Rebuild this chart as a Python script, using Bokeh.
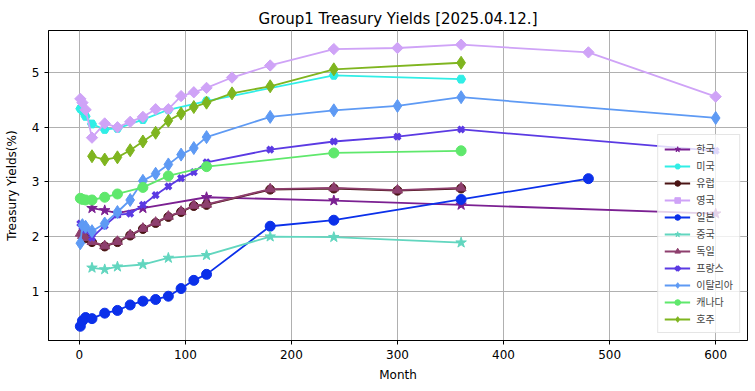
import math
from bokeh.plotting import figure
from bokeh.models import Range1d, FixedTicker, Legend
from bokeh.embed import file_html
from bokeh.resources import INLINE

# ---- data (months, yields %) ----
kr_m = [12, 24, 36, 60, 120, 240, 360, 600]
kr_v = [2.52, 2.48, 2.43, 2.52, 2.72, 2.66, 2.58, 2.42]

us_m = [1, 2, 3, 4, 6, 12, 24, 36, 60, 84, 120, 240, 360]
us_v = [4.34, 4.33, 4.32, 4.28, 4.20, 4.06, 3.96, 3.98, 4.14, 4.32, 4.48, 4.95, 4.88]

eu_m = [3, 6, 12, 24, 36, 48, 60, 72, 84, 96, 108, 120, 180, 240, 300, 360]
eu_v = [2.04, 1.97, 1.90, 1.82, 1.90, 2.02, 2.14, 2.25, 2.36, 2.45, 2.56, 2.58, 2.86, 2.88, 2.84, 2.88]

uk_m = [1, 3, 6, 12, 24, 36, 48, 60, 72, 84, 96, 108, 120, 144, 180, 240, 300, 360, 480, 600]
uk_v = [4.52, 4.45, 4.32, 3.81, 4.07, 4.00, 4.10, 4.19, 4.33, 4.33, 4.57, 4.64, 4.72, 4.91, 5.13, 5.43, 5.45, 5.51, 5.37, 4.56]

jp_m = [1, 3, 6, 12, 24, 36, 48, 60, 72, 84, 96, 108, 120, 180, 240, 360, 480]
jp_v = [0.36, 0.46, 0.52, 0.50, 0.60, 0.65, 0.75, 0.82, 0.85, 0.91, 1.05, 1.20, 1.31, 2.19, 2.30, 2.68, 3.06]

cn_m = [12, 24, 36, 60, 84, 120, 180, 240, 360]
cn_v = [1.43, 1.40, 1.45, 1.49, 1.61, 1.66, 2.00, 1.99, 1.89]

de_m = [1, 3, 6, 12, 24, 36, 48, 60, 72, 84, 96, 108, 120, 180, 240, 300, 360]
de_v = [2.06, 2.02, 1.98, 1.91, 1.83, 1.91, 2.03, 2.15, 2.26, 2.37, 2.46, 2.57, 2.59, 2.87, 2.89, 2.85, 2.89]

fr_m = [1, 3, 6, 12, 24, 36, 48, 60, 72, 84, 96, 108, 120, 180, 240, 300, 360, 600]
fr_v = [2.24, 2.18, 2.12, 1.98, 2.20, 2.40, 2.42, 2.58, 2.76, 2.92, 3.07, 3.18, 3.36, 3.59, 3.74, 3.83, 3.96, 3.57]

it_m = [1, 3, 6, 12, 24, 36, 48, 60, 72, 84, 96, 108, 120, 180, 240, 300, 360, 600]
it_v = [1.88, 2.21, 2.18, 2.10, 2.24, 2.45, 2.67, 3.02, 3.15, 3.32, 3.50, 3.62, 3.82, 4.19, 4.31, 4.39, 4.55, 4.17]

ca_m = [1, 3, 6, 12, 24, 36, 60, 84, 120, 240, 360]
ca_v = [2.70, 2.68, 2.67, 2.67, 2.72, 2.78, 2.90, 3.11, 3.28, 3.53, 3.57]

au_m = [12, 24, 36, 48, 60, 72, 84, 96, 108, 120, 144, 180, 240, 360]
au_v = [3.47, 3.41, 3.45, 3.58, 3.74, 3.90, 4.12, 4.25, 4.37, 4.45, 4.62, 4.75, 5.06, 5.18]

labels = ["한국", "미국", "유럽", "영국", "일본", "중국", "독일", "프랑스", "이탈리아", "캐나다", "호주"]
x_ticks = [0, 100, 200, 300, 400, 500, 600]
y_ticks = [1, 2, 3, 4, 5]

series = [
    (kr_m, kr_v, "#7B2092", "star", 11, 0),
    (us_m, us_v, "#30EEE6", "hex", 9, 0),
    (eu_m, eu_v, "#4A1414", "circle", 9, 0),
    (uk_m, uk_v, "#CFA3F7", "square", 8, math.pi / 4),
    (jp_m, jp_v, "#0B30EA", "circle", 10, 0),
    (cn_m, cn_v, "#62D6BF", "star", 11, 0),
    (de_m, de_v, "#8E3F6E", "triangle", 10, 0),
    (fr_m, fr_v, "#5B3AE3", "x", 8, 0),
    (it_m, it_v, "#5E9AF4", "diamond", 13, 0),
    (ca_m, ca_v, "#5FE86C", "circle", 10, 0),
    (au_m, au_v, "#7FB51F", "diamond", 13, 0),
]

FONT = "DejaVu Sans"

p = figure(width=755, height=391, output_backend="svg", toolbar_location=None,
           x_range=Range1d(-29.0, 630.0), y_range=Range1d(0.10, 5.77),
           min_border_left=48, min_border_right=8, min_border_top=30, min_border_bottom=51)

p.title.text = "Group1 Treasury Yields [2025.04.12.]"
p.title.align = "center"
p.title.text_font = FONT
p.title.text_font_size = "15px"
p.title.text_font_style = "normal"
p.title.text_color = "black"
p.title.standoff = 6

p.outline_line_color = "black"
p.outline_line_width = 1
p.outline_line_alpha = 1

for ax in (p.xaxis, p.yaxis):
    ax.axis_line_color = "black"
    ax.major_tick_line_color = "black"
    ax.major_tick_in = 0
    ax.major_tick_out = 4
    ax.minor_tick_line_color = None
    ax.major_label_text_font = FONT
    ax.major_label_text_font_size = "12px"
    ax.axis_label_text_font = FONT
    ax.axis_label_text_font_size = "12px"
    ax.axis_label_text_font_style = "normal"
    ax.major_label_text_color = "black"
    ax.axis_label_text_color = "black"

p.xaxis.ticker = FixedTicker(ticks=x_ticks)
p.yaxis.ticker = FixedTicker(ticks=y_ticks)
p.xaxis.axis_label = "Month"
p.yaxis.axis_label = "Treasury Yields(%)"
p.xaxis.axis_label_standoff = 6
p.yaxis.axis_label_standoff = 10

p.grid.grid_line_color = "#b0b0b0"
p.grid.grid_line_width = 1
p.grid.grid_line_alpha = 1

legend_items = []
for (m, v, col, mk, sz, ang), lab in zip(series, labels):
    r1 = p.line(m, v, line_color=col, line_width=1.8)
    if mk == "x":
        r2 = p.scatter(m, v, marker="x", size=sz, line_color=col, line_width=3.5)
    else:
        r2 = p.scatter(m, v, marker=mk, size=sz, angle=ang, fill_color=col, line_color=col)
    legend_items.append((lab, [r1, r2]))

legend = Legend(items=legend_items, location="bottom_right")
legend.label_text_font = "Noto Sans CJK KR"
legend.label_text_font_size = "10px"
legend.glyph_width = 26
legend.glyph_height = 14
legend.label_height = 14
legend.spacing = 2
legend.padding = 6
legend.margin = 7
legend.label_standoff = 6
legend.border_line_color = "#cccccc"
legend.background_fill_alpha = 0.8
p.add_layout(legend)

open("out.html", "w").write(file_html(p, INLINE))
